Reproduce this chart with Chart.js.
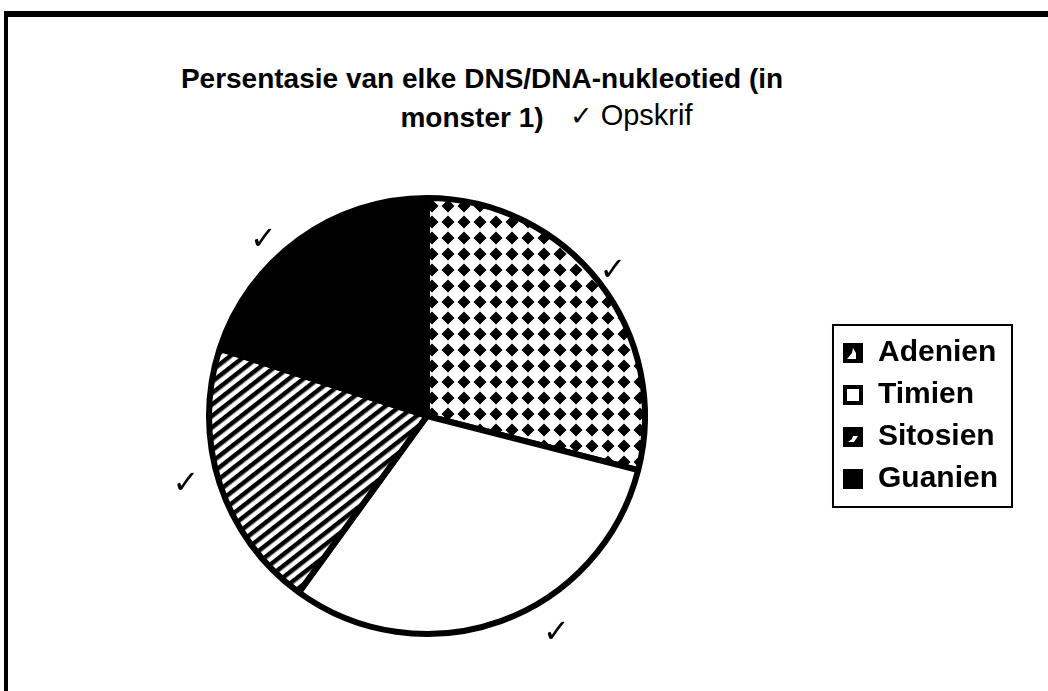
<!DOCTYPE html>
<html>
<head>
<meta charset="utf-8">
<script src="https://cdn.jsdelivr.net/npm/chart.js@4.4.0/dist/chart.umd.min.js"></script>
<style>
  html, body { margin: 0; padding: 0; background: #fff; }
  body { width: 1048px; height: 691px; overflow: hidden; position: relative; font-family: "Liberation Sans", Arial, sans-serif; color: #000; }
  #frame { position: absolute; left: 4px; top: 11px; width: 1100px; height: 720px; border-top: 6px solid #000; border-left: 4px solid #000; }
  #title { position: absolute; left: 100px; width: 764px; top: 59px; text-align: center; font-weight: bold; font-size: 28px; line-height: 39px; }
  #title .l2 { margin-right: 20px; }
  #note { position: absolute; left: 570px; top: 96px; font-size: 29px; line-height: 39px; font-weight: normal; }
  #note .tick { font-family: "DejaVu Sans", sans-serif; font-size: 27px; }
  #wrap { position: absolute; left: 8px; top: 150px; width: 1040px; height: 541px; }
</style>
</head>
<body>
<div id="frame"></div>
<div id="title">Persentasie van elke DNS/DNA-nukleotied (in<br><span class="l2">monster 1)</span></div>
<div id="note"><span class="tick">✓</span> Opskrif</div>
<div id="wrap"><canvas id="pie"></canvas></div>
<script>
// Data (percent of each nucleotide)
const labels = ['Adenien', 'Timien', 'Sitosien', 'Guanien'];
const values = [29, 31, 20, 20];

// Check marks beside each slice: angle shift (deg) and distance (x radius)
const tickShift = [0, -11, 2, -7];
const tickDist = [1.08, 1.16, 1.15, 1.1];

// Diamond dot pattern for Adenien
function diamondPattern(ctx) {
  const c = document.createElement('canvas');
  c.width = 16; c.height = 16;
  const g = c.getContext('2d');
  g.fillStyle = '#fff';
  g.fillRect(0, 0, 16, 16);
  g.fillStyle = '#000';
  g.beginPath();
  g.moveTo(8, 1.5);
  g.lineTo(14.5, 8);
  g.lineTo(8, 14.5);
  g.lineTo(1.5, 8);
  g.closePath();
  g.fill();
  return ctx.createPattern(c, 'repeat');
}

// Diagonal stripes for Sitosien
function stripePattern(ctx) {
  const c = document.createElement('canvas');
  c.width = 9; c.height = 9;
  const g = c.getContext('2d');
  g.fillStyle = '#fff';
  g.fillRect(0, 0, 9, 9);
  g.fillStyle = '#000';
  g.fillRect(0, 0, 9, 4.5);
  const p = ctx.createPattern(c, 'repeat');
  p.setTransform(new DOMMatrix().rotate(-38));
  return p;
}

// Little legend swatches like the original ones
function swatch(kind) {
  const c = document.createElement('canvas');
  c.width = 20; c.height = 20;
  const g = c.getContext('2d');
  g.fillStyle = '#000';
  g.fillRect(0, 0, 20, 20);
  g.fillStyle = '#fff';
  if (kind === 'A') {
    g.beginPath();
    g.moveTo(4, 16); g.lineTo(13, 16); g.lineTo(13, 10); g.lineTo(10, 5); g.lineTo(9, 10);
    g.closePath(); g.fill();
  } else if (kind === 'T') {
    g.fillRect(4, 4, 12, 12);
  } else if (kind === 'S') {
    g.beginPath();
    g.moveTo(5, 15); g.lineTo(11, 15); g.lineTo(15, 9); g.lineTo(10, 9); g.lineTo(9, 12);
    g.closePath(); g.fill();
  }
  return c;
}

const canvas = document.getElementById('pie');
const ctx = canvas.getContext('2d');
const fills = [diamondPattern(ctx), '#fff', stripePattern(ctx), '#000'];
const swatches = [swatch('A'), swatch('T'), swatch('S'), swatch('G')];

const extras = {
  id: 'extras',
  afterDraw(chart) {
    const c = chart.ctx;
    // check marks next to slices
    const arcs = chart.getDatasetMeta(0).data;
    c.save();
    c.fillStyle = '#000';
    c.font = '32px "DejaVu Sans"';
    c.textAlign = 'center';
    c.textBaseline = 'middle';
    arcs.forEach((arc, i) => {
      const p = arc.getProps(['x', 'y', 'startAngle', 'endAngle', 'outerRadius'], true);
      const a = (p.startAngle + p.endAngle) / 2 + tickShift[i] * Math.PI / 180;
      c.fillText('✓', p.x + Math.cos(a) * p.outerRadius * tickDist[i], p.y + Math.sin(a) * p.outerRadius * tickDist[i]);
    });
    // frame round the legend
    const boxes = chart.legend.legendHitBoxes;
    if (boxes && boxes.length) {
      const l = Math.min(...boxes.map(b => b.left));
      const r = Math.max(...boxes.map(b => b.left + b.width));
      const t = Math.min(...boxes.map(b => b.top));
      const btm = Math.max(...boxes.map(b => b.top + b.height));
      c.strokeStyle = '#000';
      c.lineWidth = 2;
      c.strokeRect(l - 10, t - 13, r - l + 24, btm - t + 26);
    }
    c.restore();
  }
};

new Chart(ctx, {
  type: 'pie',
  data: {
    labels: labels,
    datasets: [{
      data: values,
      backgroundColor: fills,
      borderColor: '#000',
      borderWidth: 6
    }]
  },
  options: {
    responsive: true,
    maintainAspectRatio: false,
    animation: false,
    layout: { padding: { left: 15, right: 40, top: 45, bottom: 54 } },
    plugins: {
      tooltip: { enabled: false },
      title: { display: false },
      legend: {
        position: 'right',
        labels: {
          color: '#000',
          font: { family: '"Liberation Sans", Arial, sans-serif', size: 30, weight: 'bold' },
          usePointStyle: true,
          boxWidth: 20,
          padding: 12,
          generateLabels(chart) {
            const items = Chart.overrides.doughnut.plugins.legend.labels.generateLabels(chart);
            items.forEach((it, i) => { it.pointStyle = swatches[i]; it.lineWidth = 0; });
            return items;
          }
        }
      }
    }
  },
  plugins: [extras]
});
</script>
</body>
</html>
